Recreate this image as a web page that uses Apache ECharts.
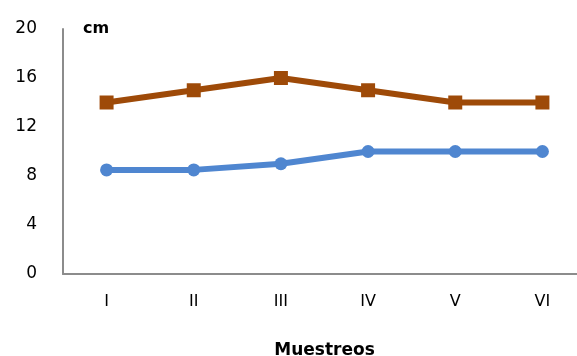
<!DOCTYPE html>
<html>
<head>
<meta charset="utf-8">
<script src="https://cdn.jsdelivr.net/npm/echarts@6/dist/echarts.min.js"></script>
<style>
  html, body { margin: 0; padding: 0; background: #fff; overflow: hidden; width: 577px; height: 356px; }
  #chart { position: absolute; left: 0; top: 0; width: 577px; height: 356px; }
</style>
</head>
<body>
<div id="chart"></div>
<script>
// Sampling rounds (Roman numerals) and lengths in cm
const muestreos = ['I', 'II', 'III', 'IV', 'V', 'VI'];
const serieCuadrados = [14, 15, 16, 15, 14, 14];
const serieCirculos = [8.5, 8.5, 9, 10, 10, 10];
const ticksY = [0, 4, 8, 12, 16, 20];

const chart = echarts.init(document.getElementById('chart'));
const fuente = '"DejaVu Sans", sans-serif';

chart.setOption({
  animation: false,
  // fixed plot area; it runs a little past the right edge of the canvas
  grid: { left: 63, width: 523, top: 29, bottom: 82, outerBoundsMode: 'none', containLabel: false },
  xAxis: {
    type: 'category',
    data: muestreos,
    boundaryGap: true,
    name: 'Muestreos',
    nameLocation: 'middle',
    nameGap: 68,
    nameTextStyle: { fontFamily: fuente, fontSize: 17, fontWeight: 'bold', color: '#000' },
    axisLine: { lineStyle: { color: '#8c8c8c', width: 2 } },
    axisTick: { show: false },
    axisLabel: { fontFamily: fuente, fontSize: 16, color: '#000', margin: 20 }
  },
  yAxis: {
    type: 'value',
    min: ticksY[0],
    max: ticksY[ticksY.length - 1],
    interval: 4,
    name: 'cm',
    nameLocation: 'end',
    nameGap: 0,
    nameTextStyle: { fontFamily: fuente, fontSize: 16, fontWeight: 'bold', color: '#000', align: 'left', verticalAlign: 'middle', padding: [0, 0, 4, 20] },
    axisLine: { show: true, lineStyle: { color: '#8c8c8c', width: 2 } },
    axisTick: { show: false },
    splitLine: { show: false },
    axisLabel: { fontFamily: fuente, fontSize: 17, color: '#000', margin: 26 }
  },
  series: [
    {
      type: 'line',
      data: serieCuadrados,
      symbol: 'rect',
      symbolSize: 14,
      lineStyle: { color: '#9e4a08', width: 6 },
      itemStyle: { color: '#9e4a08' }
    },
    {
      type: 'line',
      data: serieCirculos,
      symbol: 'circle',
      symbolSize: 13,
      lineStyle: { color: '#4f86d0', width: 6 },
      itemStyle: { color: '#4f86d0' }
    }
  ]
});
</script>
</body>
</html>
